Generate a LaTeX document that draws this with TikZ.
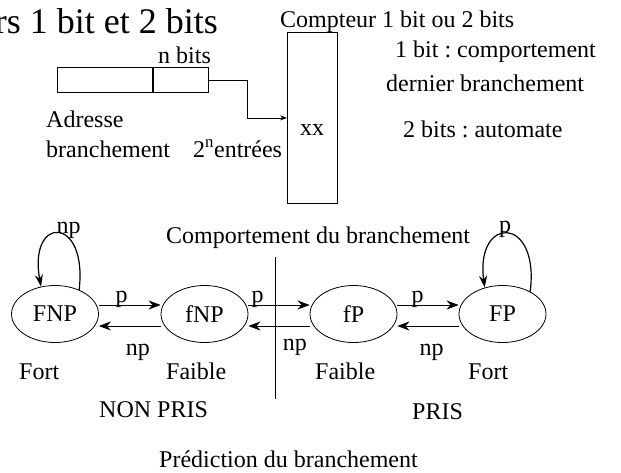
\documentclass[tikz,border=0pt]{standalone}
\usepackage{fontspec}
\setmainfont{Liberation Serif}
\usetikzlibrary{arrows.meta,shapes.geometric}
\frenchspacing

\begin{document}
\begin{tikzpicture}[x=1pt,y=-1pt]
\tikzstyle{etat}=[ellipse,draw=black,line width=0.8pt,minimum width=87pt,minimum height=57pt,inner sep=0pt,font=\fontsize{24}{28}\selectfont]
\tikzstyle{texte}=[anchor=base west,inner sep=0pt,font=\fontsize{24}{28}\selectfont]
\tikzstyle{lab}=[anchor=base,inner sep=0pt,font=\fontsize{24}{28}\selectfont]
\tikzstyle{case}=[rectangle,draw=black,line width=0.8pt,inner sep=0pt,minimum height=25pt]
\tikzstyle{fleche}=[line width=0.8pt,-{Stealth[length=12pt,width=9pt]}]
\tikzstyle{boucle}=[line width=1.2pt,-{Stealth[length=12pt,width=8pt]}]
\useasboundingbox (0,0) rectangle (621,472);

% partie haute : adresse et table des compteurs
\node[anchor=base east,inner sep=0pt,font=\fontsize{36}{42}\selectfont] (titre) at (218,33) {rs 1 bit et 2 bits};
\node[case,minimum width=95pt,anchor=north west] (adr) at (57,67) {};
\node[case,minimum width=55pt,anchor=west] (nbits) at (adr.east) {};
\node[texte] (nb) at (158,63) {n bits};
\node[texte] (adresse) at (46,127) {Adresse};
\node[texte] (branch) at (46,157) {branchement};
\node[texte] (entrees) at (193,157) {2\textsuperscript{n}entrées};
\node[rectangle,draw=black,line width=0.8pt,minimum width=50pt,minimum height=171pt,anchor=north west] (tab) at (287,32) {};
\node[lab] (xx) at (312,135) {xx};
\node[texte] (compteur) at (280,27) {Compteur 1 bit ou 2 bits};
\node[texte] (un) at (395,57) {1 bit : comportement};
\node[texte] (dernier) at (386,91) {dernier branchement};
\node[texte] (deux) at (403,137) {2 bits : automate};
\draw[line width=0.8pt,-{Stealth[length=7pt,width=5pt]}] (nbits.east) -| ([xshift=-40pt]tab.west) -- (tab.west);

% partie basse : automate 2 bits
\node[texte] (comport) at (166,243) {Comportement du branchement};
\node[etat] (FNP) at (55,314) {FNP};
\node[etat] (fNP) at (204.5,314) {fNP};
\node[etat] (fP) at (353.5,314) {fP};
\node[etat] (FP) at (502.5,314) {FP};

\draw[fleche] ([yshift=9pt]FNP.east) -- ([yshift=9pt]fNP.west) node[lab,pos=.37,yshift=3pt]{p};
\draw[fleche] ([yshift=9pt]fNP.east) -- ([yshift=9pt]fP.west) node[lab,pos=.15,yshift=3pt]{p};
\draw[fleche] ([yshift=9pt]fP.east) -- ([yshift=9pt]FP.west) node[lab,pos=.33,yshift=3pt]{p};
\draw[fleche] ([yshift=-12pt]fNP.west) -- ([yshift=-12pt]FNP.east) node[lab,pos=.37,yshift=-29pt]{np};
\draw[fleche] ([yshift=-12pt]fP.west) -- ([yshift=-12pt]fNP.east) node[lab,pos=.24,yshift=-24pt]{np};
\draw[fleche] ([yshift=-12pt]FP.west) -- ([yshift=-12pt]fP.east) node[lab,pos=.44,yshift=-29pt]{np};

\draw[boucle] (FNP.45) .. controls (88,215) and (28,215) .. (FNP.117);
\node[lab] (npboucle) at (68.5,233) {np};
\draw[boucle] (FP.39) .. controls (540,215) and (475,215) .. (FP.124);
\node[lab] (pboucle) at (505,232) {p};

\coordinate (haut) at (275,257);
\coordinate (bas) at (275,399);
\draw[line width=0.8pt] (haut) -- (bas);

\node[texte] (fort1) at (19,379) {Fort};
\node[texte] (faible1) at (166,379) {Faible};
\node[texte] (faible2) at (315,379) {Faible};
\node[texte] (fort2) at (468,379) {Fort};
\node[texte] (nonpris) at (99,417) {NON PRIS};
\node[texte] (pris) at (412,419) {PRIS};
\node[texte] (prediction) at (159,467) {Prédiction du branchement};
\end{tikzpicture}
\end{document}
